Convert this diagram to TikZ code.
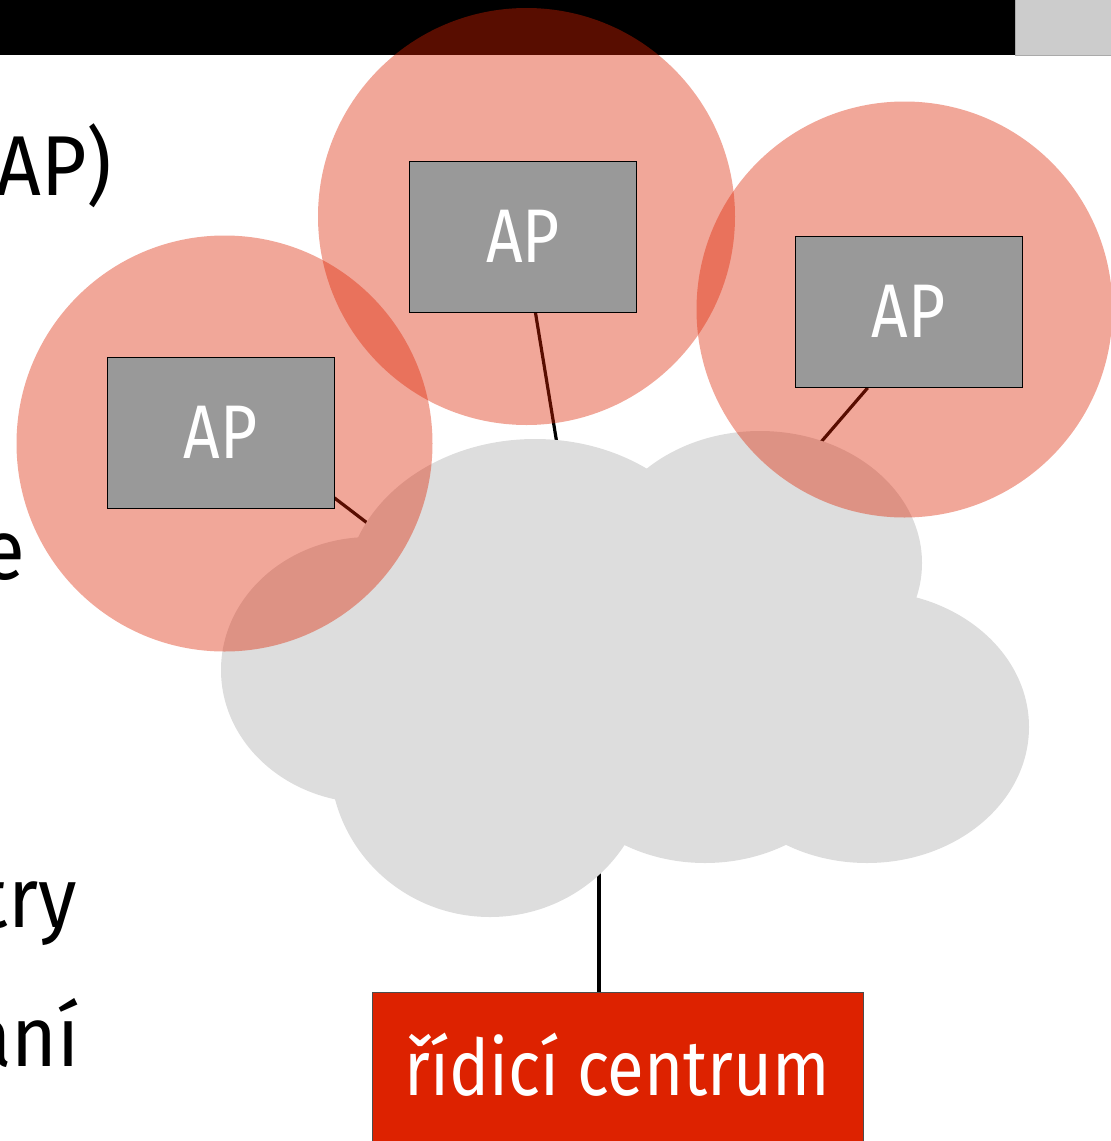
\documentclass[tikz,border=0pt]{standalone}
\usepackage{fontspec}
\setmainfont{Fira Sans}
\newfontfamily\apfont[FakeStretch=0.84]{Fira Sans}
\newfontfamily\ctrfont[FakeStretch=0.86]{Fira Sans}
\newfontfamily\bodyfont[FakeStretch=0.92]{Fira Sans}
\usetikzlibrary{calc}
\definecolor{accred}{HTML}{DD2200}
\definecolor{apgray}{HTML}{999999}
\definecolor{cloudgray}{HTML}{DDDDDD}
\definecolor{barlight}{HTML}{CCCCCC}
\definecolor{barline}{HTML}{AAAAAA}
\pgfdeclarelayer{bar}
\pgfdeclarelayer{lines}
\pgfdeclarelayer{cloudlayer}
\pgfdeclarelayer{circles}
\pgfsetlayers{bar,lines,cloudlayer,circles,main}
\begin{document}
\begin{tikzpicture}[x=1pt,y=-1pt,
  apbox/.style={draw=black, line width=0.8pt, fill=apgray, minimum width=227pt,
    minimum height=151pt, inner sep=0pt, text=white,
    font=\apfont\fontsize{76}{90}\selectfont, text height=51pt, text depth=0pt},
  ctrbox/.style={draw=black!70, line width=0.8pt, fill=accred, minimum width=491pt,
    minimum height=150pt, inner sep=0pt, text=white,
    font=\ctrfont\fontsize{78}{90}\selectfont, text height=56pt, text depth=0pt},
  bodytext/.style={inner sep=0pt, text=black, font=\bodyfont\fontsize{85}{100}\selectfont},
  conn/.style={draw=black, line width=3.2pt},
  aprange/.style={fill=accred, fill opacity=0.4},
  cloudpart/.style={fill=cloudgray}]
\useasboundingbox (0,0) rectangle (1111,1141);
\clip (0,0) rectangle (1111,1141);

% header bar
\begin{pgfonlayer}{bar}
  \fill[black] (0,0) rectangle (1015,55);
  \filldraw[fill=barlight, draw=barline, line width=1pt] (1015,-2) rectangle (1113,55);
\end{pgfonlayer}

% body text (cut at the left edge)
\node[bodytext, anchor=base east] (t1) at (112,195) {(AP)};
\node[bodytext, anchor=base east] (t2) at (25,579) {e};
\node[bodytext, anchor=base east] (t3) at (77,927) {try};
\node[bodytext, anchor=base east] (t4) at (80,1066) {ání};

% access points
\node[apbox] (apL) at (220.5,433) {AP};
\node[apbox] (apT) at (523,236.5) {AP};
\node[apbox] (apR) at (908.5,312) {AP};

% control centre
\node[ctrbox] (ctr) at (617.5,1067) {řídicí centrum};

\coordinate (c) at (599,700);

% connectors
\begin{pgfonlayer}{lines}
  \draw[conn] (apT) -- (c);
  \draw[conn] ($(apL.south east)+(0,-11)$) -- (c);
  \draw[conn] ($(apR.south west)+(73,0)$) -- (c);
  \draw[conn] (c) -- (c |- ctr.north);
\end{pgfonlayer}

% cloud
\begin{pgfonlayer}{cloudlayer}
  \fill[cloudpart] (358,545) -- (648,472) -- (912,603) -- (787,840) -- (623,840) -- (336,795) -- cycle;
  \fill[cloudpart] (370,670) ellipse [x radius=149, y radius=133];
  \fill[cloudpart] (535,594) ellipse [x radius=190, y radius=155];
  \fill[cloudpart] (760,563) ellipse [x radius=162, y radius=132];
  \fill[cloudpart] (867,727) ellipse [x radius=162, y radius=136];
  \fill[cloudpart] (705,727) ellipse [x radius=162, y radius=136];
  \fill[cloudpart] (490,760) ellipse [x radius=160, y radius=157];
\end{pgfonlayer}

% coverage ranges
\begin{pgfonlayer}{circles}
  \fill[aprange] (224.5,443.5) circle [radius=208];
  \fill[aprange] (526.5,216.5) circle [radius=208.5];
  \fill[aprange] (904.5,309.5) circle [radius=208];
\end{pgfonlayer}
\end{tikzpicture}
\end{document}
